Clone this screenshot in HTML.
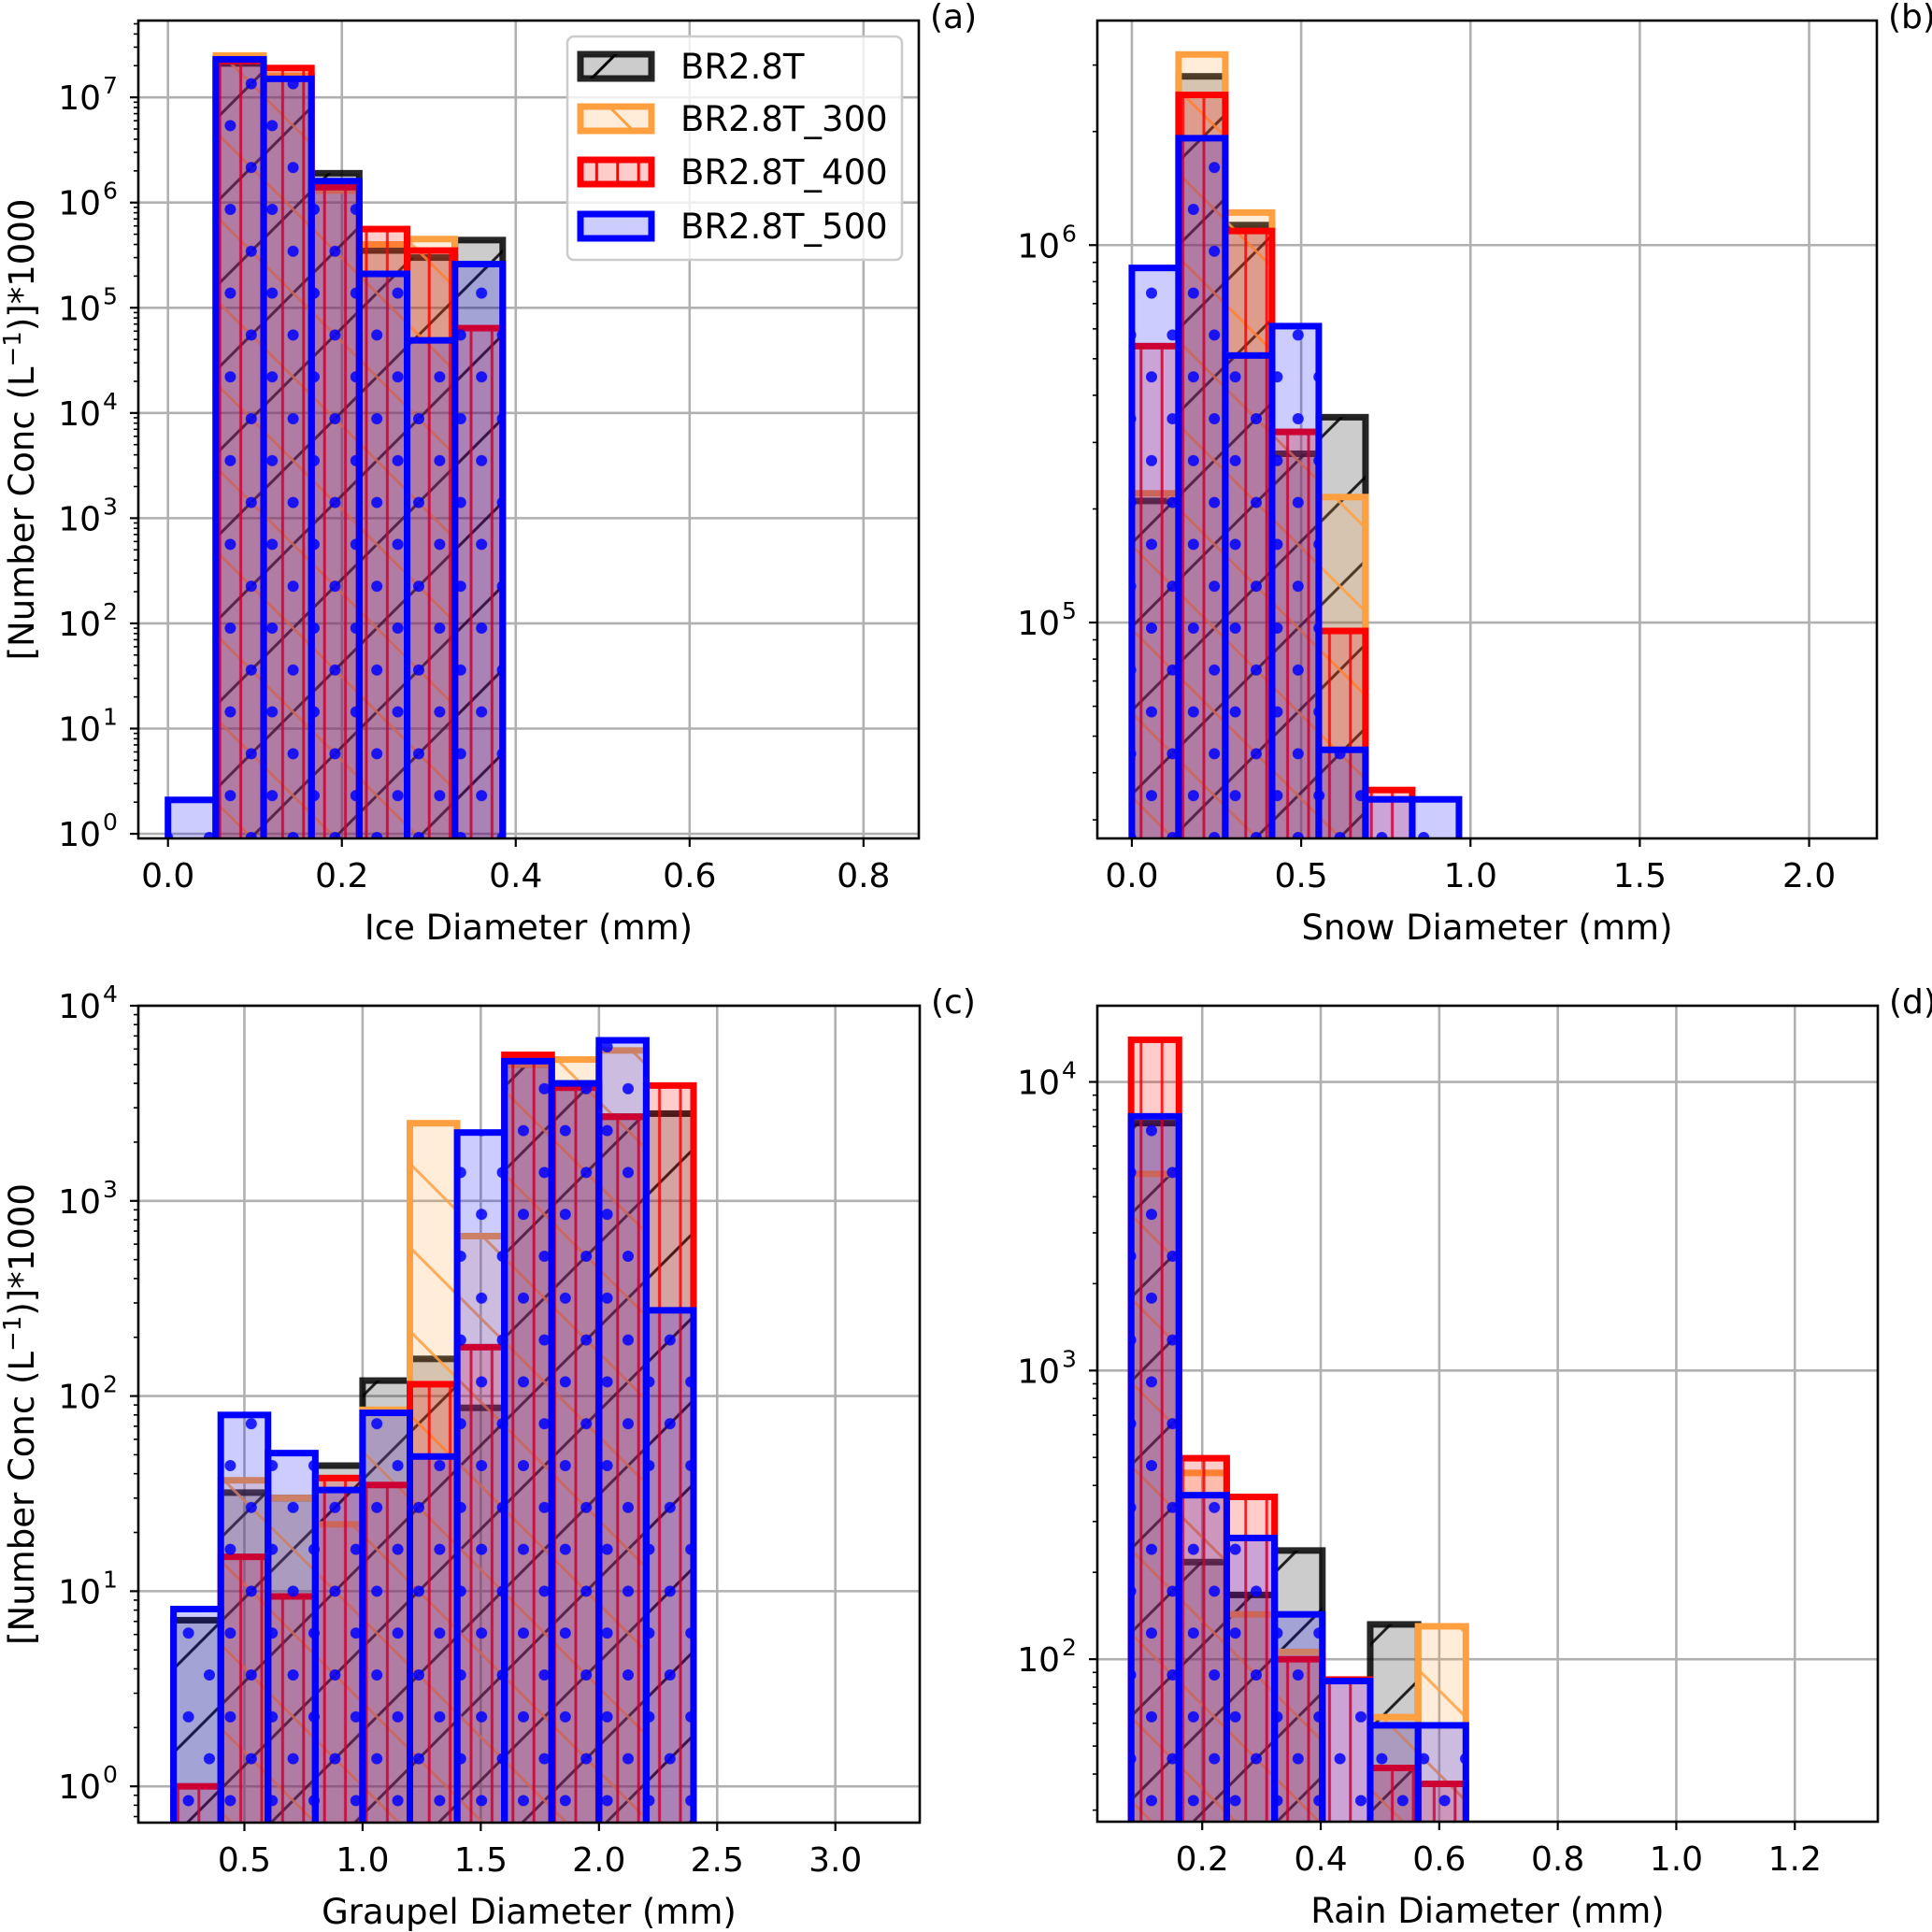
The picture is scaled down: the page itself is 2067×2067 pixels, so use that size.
<!DOCTYPE html>
<html><head><meta charset="utf-8"><style>
html,body{margin:0;padding:0;background:#fff;}
svg{display:block;font-family:"DejaVu Sans","Liberation Sans",sans-serif;}
</style></head><body>
<svg id="fig" width="2067" height="2067" viewBox="0 0 2067 2067" xmlns="http://www.w3.org/2000/svg">
<defs>
<pattern id="h-black" patternUnits="userSpaceOnUse" width="89.6" height="89.6"><path d="M-5,94.6 L94.6,-5 M-5,5 L5,-5 M84.6,94.6 L94.6,84.6" stroke="#000" stroke-width="3"/></pattern>
<pattern id="h-orange" patternUnits="userSpaceOnUse" width="89.6" height="89.6"><path d="M-5,-5 L94.6,94.6 M-5,84.6 L5,94.6 M84.6,-5 L94.6,5" stroke="#ffa040" stroke-width="3"/></pattern>
<pattern id="h-red" patternUnits="userSpaceOnUse" width="22.4" height="22.4"><path d="M11.2,0 L11.2,22.4" stroke="#ff0000" stroke-width="3"/></pattern>
<pattern id="h-blue" patternUnits="userSpaceOnUse" width="44.8" height="89.6"><circle cx="0" cy="0" r="6" fill="#0000ff"/><circle cx="44.8" cy="0" r="6" fill="#0000ff"/><circle cx="0" cy="89.6" r="6" fill="#0000ff"/><circle cx="44.8" cy="89.6" r="6" fill="#0000ff"/><circle cx="22.4" cy="44.8" r="6" fill="#0000ff"/></pattern>
</defs>
</svg>
<script>
// ---- data ----
const seriesNames = ["BR2.8T","BR2.8T_300","BR2.8T_400","BR2.8T_500"];
// (a) ice
const aBinStart = 0, aBinWidth = 0.055;
const aBlack  = [null, 2.1e7, 1.6e7, 1.9e6, 3.5e5, 3.0e5, 4.4e5];
const aOrange = [null, 2.5e7, 1.6e7, 1.3e6, 4.0e5, 4.5e5, null];
const aRed    = [null, 2.2e7, 1.9e7, 1.4e6, 5.6e5, 3.5e5, 6.4e4];
const aBlue   = [2.1, 2.3e7, 1.5e7, 1.6e6, 2.1e5, 4.9e4, 2.6e5];
const aXTicks = [0.0, 0.2, 0.4, 0.6, 0.8];
const aXTickLabels = ["0.0","0.2","0.4","0.6","0.8"];
const aYTicks = [0,1,2,3,4,5,6,7];
// (b) snow
const bBinStart = 0, bBinWidth = 0.138;
const bBlack  = [2.1e5, 2.8e6, 1.13e6, 2.8e5, 3.5e5, null, null];
const bOrange = [2.2e5, 3.2e6, 1.22e6, 3.2e5, 2.15e5, null, null];
const bRed    = [5.4e5, 2.5e6, 1.09e6, 3.2e5, 9.5e4, 3.6e4, null];
const bBlue   = [8.7e5, 1.92e6, 5.1e5, 6.1e5, 4.6e4, 3.4e4, 3.4e4];
const bXTicks = [0.0, 0.5, 1.0, 1.5, 2.0];
const bXTickLabels = ["0.0","0.5","1.0","1.5","2.0"];
const bYTicks = [5,6];
// (c) graupel
const cBinStart = 0.2, cBinWidth = 0.2;
const cBlack  = [7.1, 32, 30, 44, 120, 155, 87, 5000, 4000, 2700, 2800];
const cOrange = [null, 37, 30, 22, 85, 2500, 660, 5000, 5300, 5900, null];
const cRed    = [1.0, 15, 9.4, 38, 35, 115, 178, 5600, 3800, 2700, 3900];
const cBlue   = [8.1, 80, 51, 33, 82, 49, 2240, 5200, 4000, 6650, 275];
const cXTicks = [0.5, 1.0, 1.5, 2.0, 2.5, 3.0];
const cXTickLabels = ["0.5","1.0","1.5","2.0","2.5","3.0"];
const cYTicks = [0,1,2,3,4];
// (d) rain
const dBinStart = 0.08, dBinWidth = 0.0807;
const dBlack  = [7200, 217, 167, 238, null, 132, null];
const dOrange = [4800, 442, 143, 106, null, 63, 130];
const dRed    = [14000, 497, 365, 100, 85, 42, 37];
const dBlue   = [7600, 370, 263, 143, 84, 59, 59];
const dXTicks = [0.2, 0.4, 0.6, 0.8, 1.0, 1.2];
const dXTickLabels = ["0.2","0.4","0.6","0.8","1.0","1.2"];
const dYTicks = [2,3,4];

const NS = "http://www.w3.org/2000/svg";
const svg = document.getElementById('fig');
const styles = [
  {fill:"#000", edge:"#000", edgeOp:0.85, hatch:"h-black"},
  {fill:"#ffa040", edge:"#ffa040", edgeOp:1, hatch:"h-orange"},
  {fill:"#ff0000", edge:"#ff0000", edgeOp:1, hatch:"h-red"},
  {fill:"#0000ff", edge:"#0000ff", edgeOp:1, hatch:"h-blue"}
];
function mk(tag, attrs, parent){const e=document.createElementNS(NS,tag);for(const k in attrs)e.setAttribute(k,attrs[k]);(parent||svg).appendChild(e);return e;}

function panel(p){
  const g = mk('g',{});
  
  
  const X = v => p.L + (v - p.xmin)/(p.xmax - p.xmin)*(p.R - p.L);
  const Y = v => p.B - (Math.log10(v) - p.ymin)/(p.ymax - p.ymin)*(p.B - p.T);
  const clipId='clip-'+p.id;
  const cp=mk('clipPath',{id:clipId},g); mk('rect',{x:p.L,y:p.T,width:p.R-p.L,height:p.B-p.T},cp);
  const grid = mk('g',{stroke:"#b0b0b0","stroke-width":2.6},g);
  
  
  p.xticks.forEach(t=>mk('line',{x1:X(t),x2:X(t),y1:p.T,y2:p.B},grid));
  p.yticks.forEach(t=>mk('line',{x1:p.L,x2:p.R,y1:Y(Math.pow(10,t)),y2:Y(Math.pow(10,t))},grid));
  const bars = mk('g',{"clip-path":"url(#"+clipId+")"},g);
  p.series.forEach((vals,si)=>{
    const st=styles[si];
    const sg=mk('g',{},bars);
    
    
    vals.forEach((v,i)=>{
      if(v==null) return;
      const x0=X(p.bs+i*p.bw), x1=X(p.bs+(i+1)*p.bw), y=Y(v), yb=p.B+20;
      const r1=mk('rect',{x:x0,y:y,width:x1-x0,height:yb-y,fill:st.fill,"fill-opacity":0.2},sg);
      
      
      mk('rect',{x:x0,y:y,width:x1-x0,height:yb-y,fill:"url(#"+st.hatch+")","fill-opacity":0.85},sg);
      mk('rect',{x:x0,y:y,width:x1-x0,height:yb-y,fill:"none",stroke:st.edge,"stroke-opacity":st.edgeOp,"stroke-width":7},sg);
    });
  });
  const sp=mk('rect',{x:p.L,y:p.T,width:p.R-p.L,height:p.B-p.T,fill:"none",stroke:"#000","stroke-width":2.6},g);
  
  
  p.xticks.forEach((t,i)=>{
    mk('line',{x1:X(t),x2:X(t),y1:p.B,y2:p.B+9,stroke:"#000","stroke-width":2.2},g);
    const tx=mk('text',{x:X(t),y:p.B+52,"font-size":36,"text-anchor":"middle",fill:"#000"},g);
    tx.textContent=p.xlabels[i];
    
    
  });
  for(let d=Math.floor(p.ymin);d<=Math.ceil(p.ymax);d++){
    for(let m=1;m<10;m++){
      const lv=d+Math.log10(m);
      if(lv<p.ymin||lv>p.ymax) continue;
      const y=Y(Math.pow(10,lv));
      mk('line',{x1:p.L,x2:p.L-(m==1?9:5),y1:y,y2:y,stroke:"#000","stroke-width":m==1?2.2:1.6},g);
    }
  }
  p.yticks.forEach(t=>{
    const y=Y(Math.pow(10,t));
    const tx=mk('text',{x:p.L-40,y:y+13,"font-size":36,"text-anchor":"end",fill:"#000"},g);
    tx.textContent="10";
    
    
    const sup=mk('text',{x:p.L-38,y:y-4,"font-size":25,"text-anchor":"start",fill:"#000"},g);
    sup.textContent=String(t);
  });
  const xl=mk('text',{x:(p.L+p.R)/2,y:p.B+108,"font-size":37,"text-anchor":"middle",fill:"#000"},g);
  xl.textContent=p.xtitle;
  
  
  const pl=mk('text',{x:p.R+12,y:p.T+8,"font-size":36,fill:"#000"},g);
  pl.textContent=p.tag;
  
  
  if(p.ytitle){
    const yt=mk('text',{x:0,y:0,"font-size":37,"text-anchor":"middle",fill:"#000",transform:"translate(36,"+((p.T+p.B)/2)+") rotate(-90)"},g);
    
    
    yt.innerHTML='[Number Conc (L<tspan font-size="26" dy="-14">\u22121</tspan><tspan dy="14">)]*1000</tspan>';
  }
}

panel({id:'ice',tag:'(a)',L:148,R:983,T:22,B:897,xmin:-0.0341,xmax:0.8636,ymin:-0.044,ymax:7.73,bs:aBinStart,bw:aBinWidth,series:[aBlack,aOrange,aRed,aBlue],xticks:aXTicks,xlabels:aXTickLabels,yticks:aYTicks,xtitle:'Ice Diameter (mm)',ytitle:true});
panel({id:'snow',tag:'(b)',L:1174,R:2008,T:22,B:897,xmin:-0.102,xmax:2.2,ymin:4.428,ymax:6.595,bs:bBinStart,bw:bBinWidth,series:[bBlack,bOrange,bRed,bBlue],xticks:bXTicks,xlabels:bXTickLabels,yticks:bYTicks,xtitle:'Snow Diameter (mm)',ytitle:false});
panel({id:'graupel',tag:'(c)',L:148,R:984,T:1076,B:1950,xmin:0.0513,xmax:3.357,ymin:-0.186,ymax:4.0,bs:cBinStart,bw:cBinWidth,series:[cBlack,cOrange,cRed,cBlue],xticks:cXTicks,xlabels:cXTickLabels,yticks:cYTicks,xtitle:'Graupel Diameter (mm)',ytitle:true});
panel({id:'rain',tag:'(d)',L:1174,R:2009,T:1076,B:1949,xmin:0.023,xmax:1.34,ymin:1.437,ymax:4.264,bs:dBinStart,bw:dBinWidth,series:[dBlack,dOrange,dRed,dBlue],xticks:dXTicks,xlabels:dXTickLabels,yticks:dYTicks,xtitle:'Rain Diameter (mm)',ytitle:false});

const lg=mk('g',{});


mk('rect',{x:607,y:39,width:358,height:239,rx:7,fill:"#fff","fill-opacity":0.8,stroke:"#ccc","stroke-width":2.6},lg);
const rowsY=[71,127,184,242];
seriesNames.forEach((n,i)=>{
  const st=styles[i];
  const e=mk('g',{},lg);
  
  
  const y=rowsY[i];
  mk('rect',{x:621,y:y-13,width:76,height:26,fill:"#fff"},e);
  mk('rect',{x:621,y:y-13,width:76,height:26,fill:st.fill,"fill-opacity":0.2},e);
  mk('rect',{x:621,y:y-13,width:76,height:26,fill:"url(#"+st.hatch+")"},e);
  mk('rect',{x:621,y:y-13,width:76,height:26,fill:"none",stroke:st.edge,"stroke-opacity":st.edgeOp,"stroke-width":7},e);
  const t=mk('text',{x:728,y:y+13,"font-size":37,fill:"#000"},e);
  t.textContent=n;
});
</script>
</body></html>
